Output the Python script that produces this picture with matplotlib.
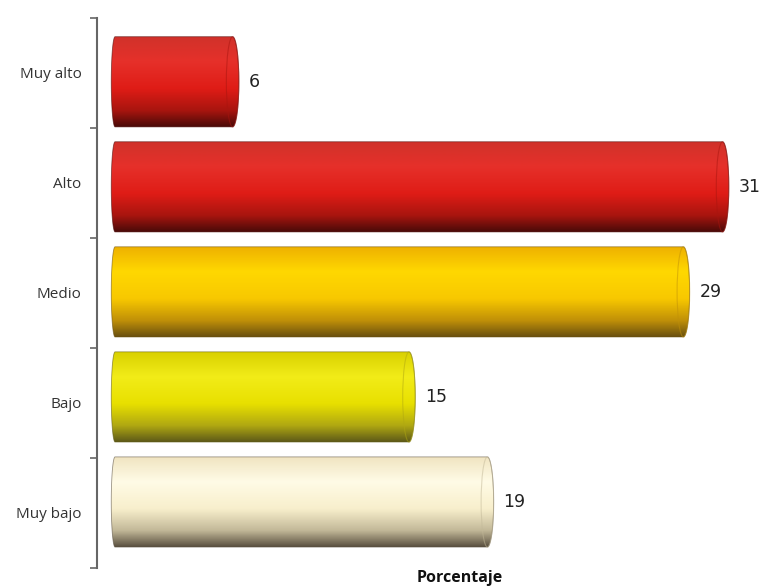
import matplotlib
matplotlib.use("Agg")
import matplotlib.pyplot as plt
import numpy as np
from matplotlib.colors import LinearSegmentedColormap
from matplotlib.path import Path
from matplotlib.patches import PathPatch, Ellipse

# Nivel de riesgo (porcentaje)
categories = ["Muy alto", "Alto", "Medio", "Bajo", "Muy bajo"]
values = [6, 31, 29, 15, 19]

# vertical shading of each cylinder, top -> bottom
shades = [
    ["#d0322a", "#e6302a", "#df1c16", "#a8150f", "#4a0a08"],
    ["#d0322a", "#e6302a", "#df1c16", "#a8150f", "#4a0a08"],
    ["#eeb000", "#ffd800", "#f8c800", "#c09008", "#6a5010"],
    ["#d8d000", "#f2ec18", "#e8e000", "#b0a812", "#5e5a18"],
    ["#f0e4c0", "#fffbe6", "#f8efcc", "#c2b898", "#5a5040"],
]
stops = [0.0, 0.28, 0.58, 0.82, 1.0]

fig = plt.figure(figsize=(7.59, 5.88), dpi=100)
ax = fig.add_axes([97 / 759, 20 / 588, 662 / 759, 550 / 588])

n = len(categories)
band = np.arange(n)[::-1] + 0.5           # label rows
ypos = np.arange(n)[::-1] * 0.955 + 0.6   # cylinder centres
h = 0.82
w = 0.32  # half-width of the end caps (x units)

ax.set_xlim(-0.92, 32.86)
ax.set_ylim(0, 5)


def cylinder_path(x0, x1, yc, hh, cap):
    t = np.linspace(np.pi / 2, -np.pi / 2, 40)
    right = np.column_stack([x1 + cap * np.cos(t), yc + hh / 2 * np.sin(t)])
    left = np.column_stack([x0 - cap * 0.6 * np.cos(t), yc - hh / 2 * np.sin(t)])
    verts = np.vstack([[x0, yc + hh / 2], right, [x0, yc - hh / 2], left, [x0, yc + hh / 2]])
    return Path(verts, closed=True)


for v, y, sh in zip(values, ypos, shades):
    cmap = LinearSegmentedColormap.from_list("cyl", list(zip(stops, sh)))
    grad = np.linspace(0, 1, 200).reshape(-1, 1)
    path = cylinder_path(0, v, y, h, w)
    im = ax.imshow(grad, cmap=cmap, aspect="auto", origin="upper",
                   extent=(-w, v + w, y - h / 2, y + h / 2), zorder=2,
                   interpolation="bilinear")
    patch = PathPatch(path, facecolor="none", edgecolor=sh[4], lw=0.6,
                      alpha=0.6, zorder=3)
    ax.add_patch(patch)
    im.set_clip_path(patch)
    ax.add_patch(Ellipse((v, y), 2 * w, h, facecolor="none",
                         edgecolor=sh[3], lw=0.8, alpha=0.5, zorder=3))
    ax.annotate(str(v), (v + w, y), xytext=(7, 0), textcoords="offset points",
                ha="left", va="center", fontsize=12.5, color="#222222",
                family="DejaVu Sans", annotation_clip=False)

# axis: only the left spine with band ticks
for s in ["top", "right", "bottom"]:
    ax.spines[s].set_visible(False)
ax.spines["left"].set_color("#666666")
ax.spines["left"].set_linewidth(1.5)
ax.set_xticks([])
ax.set_yticks(band)
ax.set_yticklabels(categories, fontsize=11, color="#333333", family="Open Sans")
ax.set_yticks(np.arange(n + 1), minor=True)
ax.tick_params(axis="y", which="major", length=0, pad=11)
ax.tick_params(axis="y", which="minor", length=5, width=1.2, color="#666666",
               direction="out")

fig.text(460 / 759, 1 - 578 / 588, "Porcentaje", ha="center", va="center",
         fontsize=11.5, fontweight="bold", color="#111111", family="Open Sans")

fig.savefig("out.png", dpi=100)
